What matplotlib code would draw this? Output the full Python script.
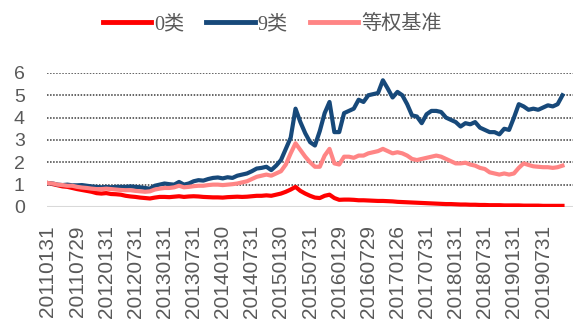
import matplotlib.pyplot as plt

# monthly series, 2011-01 .. 2019-11
cls0 = [1.07, 1.02, 0.97, 0.92, 0.90, 0.85, 0.80, 0.76, 0.72, 0.68,
        0.62, 0.60, 0.62, 0.58, 0.57, 0.55, 0.50, 0.47, 0.45, 0.42,
        0.40, 0.38, 0.42, 0.45, 0.45, 0.44, 0.46, 0.48, 0.45, 0.47,
        0.48, 0.47, 0.45, 0.44, 0.43, 0.43, 0.42, 0.44, 0.45, 0.46,
        0.45, 0.46, 0.48, 0.50, 0.50, 0.52, 0.50, 0.55, 0.60, 0.68,
        0.78, 0.90, 0.72, 0.60, 0.50, 0.42, 0.40, 0.50, 0.55, 0.40,
        0.32, 0.33, 0.33, 0.32, 0.30, 0.30, 0.29, 0.28, 0.27, 0.27,
        0.26, 0.25, 0.23, 0.22, 0.21, 0.20, 0.19, 0.18, 0.17, 0.16,
        0.15, 0.14, 0.13, 0.13, 0.12, 0.11, 0.11, 0.10, 0.10, 0.09,
        0.09, 0.08, 0.08, 0.08, 0.07, 0.07, 0.07, 0.07, 0.06, 0.06,
        0.06, 0.06, 0.05, 0.05, 0.05, 0.05, 0.05]
cls9 = [1.07, 1.05, 1.00, 0.98, 1.00, 0.97, 0.97, 0.98, 0.95, 0.92,
        0.90, 0.88, 0.90, 0.88, 0.90, 0.90, 0.90, 0.92, 0.90, 0.88,
        0.85, 0.82, 0.95, 1.00, 1.05, 1.02, 1.00, 1.12, 1.00, 1.05,
        1.15, 1.20, 1.18, 1.25, 1.30, 1.32, 1.28, 1.33, 1.30, 1.40,
        1.45, 1.50, 1.60, 1.72, 1.75, 1.80, 1.65, 1.85, 2.10, 2.60,
        3.10, 4.40, 3.80, 3.30, 2.90, 2.75, 3.40, 4.20, 4.70, 3.35,
        3.35, 4.20, 4.30, 4.40, 4.80, 4.70, 5.00, 5.05, 5.10, 5.67,
        5.30, 4.90, 5.15, 5.00, 4.60, 4.10, 4.05, 3.75, 4.15, 4.30,
        4.30, 4.25, 4.00, 3.90, 3.80, 3.60, 3.75, 3.70, 3.80, 3.55,
        3.45, 3.35, 3.35, 3.25, 3.50, 3.45, 4.00, 4.60, 4.50, 4.35,
        4.40, 4.35, 4.45, 4.55, 4.50, 4.60, 5.00]
bench = [1.07, 1.05, 1.00, 0.98, 0.95, 0.95, 0.90, 0.87, 0.85, 0.82,
         0.80, 0.80, 0.82, 0.80, 0.78, 0.76, 0.75, 0.75, 0.72, 0.70,
         0.68, 0.70, 0.78, 0.82, 0.85, 0.85, 0.88, 0.95, 0.88, 0.90,
         0.93, 0.95, 0.95, 0.98, 1.00, 1.00, 0.98, 1.00, 1.02, 1.05,
         1.10, 1.15, 1.25, 1.35, 1.40, 1.45, 1.40, 1.50, 1.60, 1.90,
         2.40, 2.85, 2.55, 2.25, 2.00, 1.80, 1.80, 2.30, 2.60, 1.95,
         1.90, 2.25, 2.25, 2.20, 2.30, 2.30, 2.40, 2.45, 2.50, 2.60,
         2.50, 2.40, 2.45, 2.40, 2.30, 2.15, 2.10, 2.15, 2.20, 2.25,
         2.30, 2.25, 2.15, 2.05, 1.95, 1.95, 1.98, 1.90, 1.85, 1.75,
         1.70, 1.55, 1.50, 1.45, 1.50, 1.45, 1.50, 1.75, 1.95, 1.88,
         1.82, 1.80, 1.78, 1.78, 1.75, 1.78, 1.85]
tick_labels = ['20110131', '20110729', '20120131', '20120731', '20130131',
               '20130731', '20140130', '20140731', '20150130', '20150731',
               '20160129', '20160729', '20170126', '20170731', '20180131',
               '20180731', '20190131', '20190731']
names = ['0类', '9类', '等权基准']
colors = ['#FF0000', '#17497A', '#FF8585']

x = list(range(len(cls0)))

fig = plt.figure(figsize=(5.82, 3.36), dpi=100)
ax = fig.add_axes([0.0808, 0.384, 0.904, 0.399])

for v in range(1, 7):
    ax.axhline(v, color='#3a3a3a', lw=1.1, ls=(0, (1, 1)), zorder=1)
ax.axhline(0, color='#D9D9D9', lw=1.5, zorder=1)

for ys, name, c in zip([cls0, cls9, bench], names, colors):
    ax.plot(x, ys, color=c, lw=3.0, label=name, zorder=3, solid_joinstyle='round')

ax.set_xlim(-0.2, 108.2)
ax.set_ylim(0, 6)
for s in ax.spines.values():
    s.set_visible(False)

ax.set_yticks(range(7))
ax.set_yticklabels([str(v) for v in range(7)], fontsize=14, color='#595959',
                   family='Liberation Sans')
ax.set_xticks(x[::6])
ax.set_xticklabels(tick_labels, rotation=90, fontsize=15, color='#595959',
                   family='Liberation Sans')
ax.tick_params(axis='y', length=0, pad=16)
ax.tick_params(axis='x', length=0, pad=13)

leg = fig.legend(loc='center', bbox_to_anchor=(0.468, 0.926), ncol=3, frameon=False,
                 handlelength=2.4, handletextpad=0.15, columnspacing=1.1,
                 prop={'family': ['Liberation Serif', 'Noto Sans CJK SC'], 'size': 14.5})
for t in leg.get_texts():
    t.set_color('#595959')
for h in leg.get_lines():
    h.set_linewidth(3.5)

fig.savefig('out.png', dpi=100)
